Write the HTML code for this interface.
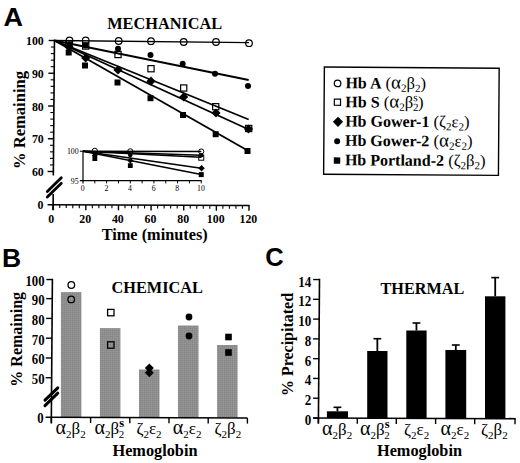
<!DOCTYPE html>
<html><head><meta charset="utf-8"><title>Figure</title>
<style>html,body{margin:0;padding:0;background:#fff}svg{display:block}</style></head>
<body>
<svg width="520" height="463" viewBox="0 0 520 463">
<defs><pattern id="ht" width="2" height="2" patternUnits="userSpaceOnUse"><rect width="2" height="2" fill="#8e8e8e"/><rect width="1" height="1" fill="#858585"/><rect x="1" y="1" width="1" height="1" fill="#979797"/></pattern></defs>
<rect width="520" height="463" fill="#fff"/>
<text transform="translate(3.4,25.9) scale(1.08,1)" font-size="25" font-weight="bold" font-family="Liberation Sans, sans-serif">A</text>
<text x="164.70" y="28.60" font-size="16.3" text-anchor="middle" font-weight="bold" font-family="Liberation Serif, serif" >MECHANICAL</text>
<line x1="54.46" y1="39.80" x2="53.34" y2="175.50" stroke="#000" stroke-width="1.6" />
<line x1="53.19" y1="194.00" x2="53.06" y2="210.30" stroke="#000" stroke-width="1.6" />
<line x1="47.60" y1="204.72" x2="249.68" y2="205.57" stroke="#000" stroke-width="1.6" />
<line x1="48.65" y1="40.50" x2="54.45" y2="40.50" stroke="#000" stroke-width="1.4" />
<text transform="translate(43.80,45.20) scale(0.9,1)" font-size="13.2" text-anchor="end" font-weight="bold" font-family="Liberation Serif, serif">100</text>
<line x1="48.38" y1="73.25" x2="54.18" y2="73.25" stroke="#000" stroke-width="1.4" />
<text transform="translate(43.80,77.95) scale(0.9,1)" font-size="13.2" text-anchor="end" font-weight="bold" font-family="Liberation Serif, serif">90</text>
<line x1="48.11" y1="106.00" x2="53.91" y2="106.00" stroke="#000" stroke-width="1.4" />
<text transform="translate(43.80,110.70) scale(0.9,1)" font-size="13.2" text-anchor="end" font-weight="bold" font-family="Liberation Serif, serif">80</text>
<line x1="47.84" y1="138.75" x2="53.64" y2="138.75" stroke="#000" stroke-width="1.4" />
<text transform="translate(43.80,143.45) scale(0.9,1)" font-size="13.2" text-anchor="end" font-weight="bold" font-family="Liberation Serif, serif">70</text>
<line x1="47.58" y1="171.50" x2="53.38" y2="171.50" stroke="#000" stroke-width="1.4" />
<text transform="translate(43.80,176.20) scale(0.9,1)" font-size="13.2" text-anchor="end" font-weight="bold" font-family="Liberation Serif, serif">60</text>
<line x1="49.93" y1="164.95" x2="53.43" y2="164.95" stroke="#000" stroke-width="1.1" />
<line x1="49.98" y1="158.40" x2="53.48" y2="158.40" stroke="#000" stroke-width="1.1" />
<line x1="50.04" y1="151.85" x2="53.54" y2="151.85" stroke="#000" stroke-width="1.1" />
<line x1="50.09" y1="145.30" x2="53.59" y2="145.30" stroke="#000" stroke-width="1.1" />
<line x1="50.20" y1="132.20" x2="53.70" y2="132.20" stroke="#000" stroke-width="1.1" />
<line x1="50.25" y1="125.65" x2="53.75" y2="125.65" stroke="#000" stroke-width="1.1" />
<line x1="50.31" y1="119.10" x2="53.81" y2="119.10" stroke="#000" stroke-width="1.1" />
<line x1="50.36" y1="112.55" x2="53.86" y2="112.55" stroke="#000" stroke-width="1.1" />
<line x1="50.47" y1="99.45" x2="53.97" y2="99.45" stroke="#000" stroke-width="1.1" />
<line x1="50.52" y1="92.90" x2="54.02" y2="92.90" stroke="#000" stroke-width="1.1" />
<line x1="50.57" y1="86.35" x2="54.07" y2="86.35" stroke="#000" stroke-width="1.1" />
<line x1="50.63" y1="79.80" x2="54.13" y2="79.80" stroke="#000" stroke-width="1.1" />
<line x1="50.74" y1="66.70" x2="54.24" y2="66.70" stroke="#000" stroke-width="1.1" />
<line x1="50.79" y1="60.15" x2="54.29" y2="60.15" stroke="#000" stroke-width="1.1" />
<line x1="50.84" y1="53.60" x2="54.34" y2="53.60" stroke="#000" stroke-width="1.1" />
<line x1="50.90" y1="47.05" x2="54.40" y2="47.05" stroke="#000" stroke-width="1.1" />
<text transform="translate(43.40,209.00) scale(0.9,1)" font-size="13.2" text-anchor="end" font-weight="bold" font-family="Liberation Serif, serif">0</text>
<line x1="53.20" y1="204.75" x2="53.20" y2="210.05" stroke="#000" stroke-width="1.4" />
<text transform="translate(51.30,222.55) scale(0.9,1)" font-size="13.2" text-anchor="middle" font-weight="bold" font-family="Liberation Serif, serif">0</text>
<line x1="85.83" y1="204.88" x2="85.83" y2="210.18" stroke="#000" stroke-width="1.4" />
<text transform="translate(85.23,222.68) scale(0.9,1)" font-size="13.2" text-anchor="middle" font-weight="bold" font-family="Liberation Serif, serif">20</text>
<line x1="118.46" y1="205.02" x2="118.46" y2="210.32" stroke="#000" stroke-width="1.4" />
<text transform="translate(117.86,222.82) scale(0.9,1)" font-size="13.2" text-anchor="middle" font-weight="bold" font-family="Liberation Serif, serif">40</text>
<line x1="151.09" y1="205.16" x2="151.09" y2="210.46" stroke="#000" stroke-width="1.4" />
<text transform="translate(150.49,222.96) scale(0.9,1)" font-size="13.2" text-anchor="middle" font-weight="bold" font-family="Liberation Serif, serif">60</text>
<line x1="183.72" y1="205.29" x2="183.72" y2="210.59" stroke="#000" stroke-width="1.4" />
<text transform="translate(183.12,223.09) scale(0.9,1)" font-size="13.2" text-anchor="middle" font-weight="bold" font-family="Liberation Serif, serif">80</text>
<line x1="216.35" y1="205.43" x2="216.35" y2="210.73" stroke="#000" stroke-width="1.4" />
<text transform="translate(215.75,223.23) scale(0.9,1)" font-size="13.2" text-anchor="middle" font-weight="bold" font-family="Liberation Serif, serif">100</text>
<line x1="248.98" y1="205.57" x2="248.98" y2="210.87" stroke="#000" stroke-width="1.4" />
<text transform="translate(248.38,223.37) scale(0.9,1)" font-size="13.2" text-anchor="middle" font-weight="bold" font-family="Liberation Serif, serif">120</text>
<line x1="59.73" y1="204.77" x2="59.73" y2="208.07" stroke="#000" stroke-width="1.1" />
<line x1="66.25" y1="204.80" x2="66.25" y2="208.10" stroke="#000" stroke-width="1.1" />
<line x1="72.78" y1="204.83" x2="72.78" y2="208.13" stroke="#000" stroke-width="1.1" />
<line x1="79.30" y1="204.86" x2="79.30" y2="208.16" stroke="#000" stroke-width="1.1" />
<line x1="92.36" y1="204.91" x2="92.36" y2="208.21" stroke="#000" stroke-width="1.1" />
<line x1="98.88" y1="204.94" x2="98.88" y2="208.24" stroke="#000" stroke-width="1.1" />
<line x1="105.41" y1="204.97" x2="105.41" y2="208.27" stroke="#000" stroke-width="1.1" />
<line x1="111.93" y1="204.99" x2="111.93" y2="208.29" stroke="#000" stroke-width="1.1" />
<line x1="124.99" y1="205.05" x2="124.99" y2="208.35" stroke="#000" stroke-width="1.1" />
<line x1="131.51" y1="205.08" x2="131.51" y2="208.38" stroke="#000" stroke-width="1.1" />
<line x1="138.04" y1="205.10" x2="138.04" y2="208.40" stroke="#000" stroke-width="1.1" />
<line x1="144.56" y1="205.13" x2="144.56" y2="208.43" stroke="#000" stroke-width="1.1" />
<line x1="157.62" y1="205.19" x2="157.62" y2="208.49" stroke="#000" stroke-width="1.1" />
<line x1="164.14" y1="205.21" x2="164.14" y2="208.51" stroke="#000" stroke-width="1.1" />
<line x1="170.67" y1="205.24" x2="170.67" y2="208.54" stroke="#000" stroke-width="1.1" />
<line x1="177.19" y1="205.27" x2="177.19" y2="208.57" stroke="#000" stroke-width="1.1" />
<line x1="190.25" y1="205.32" x2="190.25" y2="208.62" stroke="#000" stroke-width="1.1" />
<line x1="196.77" y1="205.35" x2="196.77" y2="208.65" stroke="#000" stroke-width="1.1" />
<line x1="203.30" y1="205.38" x2="203.30" y2="208.68" stroke="#000" stroke-width="1.1" />
<line x1="209.82" y1="205.40" x2="209.82" y2="208.70" stroke="#000" stroke-width="1.1" />
<line x1="222.88" y1="205.46" x2="222.88" y2="208.76" stroke="#000" stroke-width="1.1" />
<line x1="229.40" y1="205.49" x2="229.40" y2="208.79" stroke="#000" stroke-width="1.1" />
<line x1="235.93" y1="205.51" x2="235.93" y2="208.81" stroke="#000" stroke-width="1.1" />
<line x1="242.45" y1="205.54" x2="242.45" y2="208.84" stroke="#000" stroke-width="1.1" />
<line x1="47.30" y1="191.40" x2="61.30" y2="177.80" stroke="#000" stroke-width="2.8" stroke-linecap="round"/>
<line x1="47.30" y1="196.90" x2="61.30" y2="183.30" stroke="#000" stroke-width="2.8" stroke-linecap="round"/>
<text x="154.70" y="240.00" font-size="16.3" text-anchor="middle" font-weight="bold" font-family="Liberation Serif, serif" >Time (minutes)</text>
<text transform="translate(24.6,120) rotate(-90)" font-size="16.6" text-anchor="middle" font-weight="bold" font-family="Liberation Serif, serif">% Remaining</text>
<line x1="54.45" y1="40.50" x2="249.00" y2="42.60" stroke="#000" stroke-width="1.4" />
<line x1="54.45" y1="40.50" x2="248.70" y2="80.00" stroke="#000" stroke-width="1.8" />
<line x1="54.45" y1="40.50" x2="248.70" y2="119.50" stroke="#000" stroke-width="1.8" />
<line x1="54.45" y1="40.50" x2="248.70" y2="129.50" stroke="#000" stroke-width="1.8" />
<line x1="54.45" y1="40.50" x2="248.50" y2="151.00" stroke="#000" stroke-width="1.8" />
<rect x="65.70" y="49.50" width="6.0" height="6.0" fill="#000"/>
<rect x="82.00" y="62.50" width="6.0" height="6.0" fill="#000"/>
<rect x="114.50" y="79.50" width="6.0" height="6.0" fill="#000"/>
<rect x="147.50" y="95.20" width="6.0" height="6.0" fill="#000"/>
<rect x="180.00" y="112.00" width="6.0" height="6.0" fill="#000"/>
<rect x="212.70" y="131.20" width="6.0" height="6.0" fill="#000"/>
<rect x="244.50" y="148.00" width="6.0" height="6.0" fill="#000"/>
<rect x="65.90" y="40.90" width="6.2" height="6.2" fill="none" stroke="#000" stroke-width="1.2"/>
<rect x="82.60" y="42.90" width="6.2" height="6.2" fill="none" stroke="#000" stroke-width="1.2"/>
<rect x="114.90" y="51.40" width="6.2" height="6.2" fill="none" stroke="#000" stroke-width="1.2"/>
<rect x="147.90" y="65.60" width="6.2" height="6.2" fill="none" stroke="#000" stroke-width="1.2"/>
<rect x="180.60" y="84.90" width="6.2" height="6.2" fill="none" stroke="#000" stroke-width="1.2"/>
<rect x="212.60" y="103.60" width="6.2" height="6.2" fill="none" stroke="#000" stroke-width="1.2"/>
<rect x="245.60" y="125.40" width="6.2" height="6.2" fill="none" stroke="#000" stroke-width="1.2"/>
<polygon points="64.40,47.00 69.00,42.40 73.60,47.00 69.00,51.60" fill="#000"/>
<polygon points="81.10,58.00 85.70,53.40 90.30,58.00 85.70,62.60" fill="#000"/>
<polygon points="113.40,70.00 118.00,65.40 122.60,70.00 118.00,74.60" fill="#000"/>
<polygon points="146.40,81.20 151.00,76.60 155.60,81.20 151.00,85.80" fill="#000"/>
<polygon points="179.10,97.00 183.70,92.40 188.30,97.00 183.70,101.60" fill="#000"/>
<polygon points="211.40,113.00 216.00,108.40 220.60,113.00 216.00,117.60" fill="#000"/>
<polygon points="243.90,129.00 248.50,124.40 253.10,129.00 248.50,133.60" fill="#000"/>
<circle cx="69.50" cy="44.50" r="3.0" fill="#000"/>
<circle cx="85.50" cy="45.50" r="3.0" fill="#000"/>
<circle cx="118.00" cy="48.70" r="3.0" fill="#000"/>
<circle cx="150.50" cy="55.00" r="3.0" fill="#000"/>
<circle cx="182.70" cy="63.70" r="3.0" fill="#000"/>
<circle cx="215.00" cy="73.70" r="3.0" fill="#000"/>
<circle cx="248.00" cy="86.00" r="3.0" fill="#000"/>
<circle cx="69.50" cy="40.50" r="3.3" fill="none" stroke="#000" stroke-width="1.2"/>
<circle cx="85.70" cy="40.50" r="3.3" fill="none" stroke="#000" stroke-width="1.2"/>
<circle cx="118.70" cy="41.00" r="3.3" fill="none" stroke="#000" stroke-width="1.2"/>
<circle cx="151.00" cy="41.20" r="3.3" fill="none" stroke="#000" stroke-width="1.2"/>
<circle cx="183.70" cy="42.00" r="3.3" fill="none" stroke="#000" stroke-width="1.2"/>
<circle cx="216.00" cy="42.00" r="3.3" fill="none" stroke="#000" stroke-width="1.2"/>
<circle cx="249.00" cy="43.20" r="3.3" fill="none" stroke="#000" stroke-width="1.2"/>
<line x1="83.00" y1="150.70" x2="83.00" y2="183.60" stroke="#000" stroke-width="1.2" />
<line x1="79.80" y1="180.60" x2="201.75" y2="180.60" stroke="#000" stroke-width="1.2" />
<line x1="79.80" y1="151.20" x2="83.00" y2="151.20" stroke="#000" stroke-width="1.1" />
<line x1="94.83" y1="180.60" x2="94.83" y2="183.40" stroke="#000" stroke-width="1.0" />
<line x1="106.65" y1="180.60" x2="106.65" y2="183.40" stroke="#000" stroke-width="1.0" />
<line x1="118.47" y1="180.60" x2="118.47" y2="183.40" stroke="#000" stroke-width="1.0" />
<line x1="130.30" y1="180.60" x2="130.30" y2="183.40" stroke="#000" stroke-width="1.0" />
<line x1="142.12" y1="180.60" x2="142.12" y2="183.40" stroke="#000" stroke-width="1.0" />
<line x1="153.95" y1="180.60" x2="153.95" y2="183.40" stroke="#000" stroke-width="1.0" />
<line x1="165.77" y1="180.60" x2="165.77" y2="183.40" stroke="#000" stroke-width="1.0" />
<line x1="177.60" y1="180.60" x2="177.60" y2="183.40" stroke="#000" stroke-width="1.0" />
<line x1="189.43" y1="180.60" x2="189.43" y2="183.40" stroke="#000" stroke-width="1.0" />
<line x1="201.25" y1="180.60" x2="201.25" y2="183.40" stroke="#000" stroke-width="1.0" />
<text x="82.70" y="191.20" font-size="7.8" text-anchor="middle"  font-family="Liberation Serif, serif" >0</text>
<text x="106.35" y="191.20" font-size="7.8" text-anchor="middle"  font-family="Liberation Serif, serif" >2</text>
<text x="130.00" y="191.20" font-size="7.8" text-anchor="middle"  font-family="Liberation Serif, serif" >4</text>
<text x="153.65" y="191.20" font-size="7.8" text-anchor="middle"  font-family="Liberation Serif, serif" >6</text>
<text x="177.30" y="191.20" font-size="7.8" text-anchor="middle"  font-family="Liberation Serif, serif" >8</text>
<text x="200.95" y="191.20" font-size="7.8" text-anchor="middle"  font-family="Liberation Serif, serif" >10</text>
<text x="78.60" y="153.80" font-size="7.8" text-anchor="end"  font-family="Liberation Serif, serif" >100</text>
<text x="78.60" y="183.50" font-size="7.8" text-anchor="end"  font-family="Liberation Serif, serif" >95</text>
<line x1="83.00" y1="151.20" x2="201.25" y2="151.60" stroke="#000" stroke-width="1.5" />
<line x1="83.00" y1="151.20" x2="201.25" y2="155.20" stroke="#000" stroke-width="1.5" />
<line x1="83.00" y1="151.20" x2="201.25" y2="157.30" stroke="#000" stroke-width="1.5" />
<line x1="83.00" y1="151.20" x2="201.25" y2="168.20" stroke="#000" stroke-width="1.5" />
<line x1="83.00" y1="151.20" x2="201.25" y2="174.60" stroke="#000" stroke-width="1.5" />
<rect x="92.42" y="156.20" width="4.8" height="4.8" fill="#000"/>
<rect x="127.90" y="163.20" width="4.8" height="4.8" fill="#000"/>
<polygon points="91.83,155.50 94.83,152.50 97.83,155.50 94.83,158.50" fill="#000"/>
<polygon points="127.30,160.50 130.30,157.50 133.30,160.50 130.30,163.50" fill="#000"/>
<circle cx="94.83" cy="153.20" r="2.3" fill="#000"/>
<circle cx="130.30" cy="155.00" r="2.3" fill="#000"/>
<rect x="198.75" y="172.10" width="5.0" height="5.0" fill="#000"/>
<polygon points="198.35,168.20 201.55,165.00 204.75,168.20 201.55,171.40" fill="#000"/>
<circle cx="201.25" cy="155.20" r="2.2" fill="#000"/>
<rect x="198.75" y="155.20" width="5.0" height="5.0" fill="none" stroke="#000" stroke-width="1.0"/>
<circle cx="94.83" cy="150.80" r="2.6" fill="none" stroke="#000" stroke-width="1.0"/>
<circle cx="130.30" cy="151.30" r="2.6" fill="none" stroke="#000" stroke-width="1.0"/>
<circle cx="201.25" cy="151.50" r="2.6" fill="none" stroke="#000" stroke-width="1.0"/>
<g transform="rotate(0.4 411 121)">
<rect x="324" y="67.6" width="174.8" height="107.2" fill="#fff" stroke="#000" stroke-width="1.4"/>
<text x="345.2" y="88.7" font-size="16" font-family="Liberation Serif, serif"><tspan font-weight="bold">Hb A</tspan><tspan font-size="16.6"> (<tspan font-size="19">&#945;</tspan><tspan font-size="11" dy="3.2">2</tspan><tspan dy="-3.2" font-size="1">&#8203;</tspan>&#946;<tspan font-size="11" dy="3.2">2</tspan><tspan dy="-3.2" font-size="1">&#8203;</tspan>)</tspan></text>
<text x="345.2" y="107.7" font-size="16" font-family="Liberation Serif, serif"><tspan font-weight="bold">Hb S</tspan><tspan font-size="16.6"> (<tspan font-size="19">&#945;</tspan><tspan font-size="11" dy="3.2">2</tspan><tspan dy="-3.2" font-size="1">&#8203;</tspan>&#946;<tspan font-size="11.5" dy="-6.5">s</tspan><tspan font-size="11" dy="9.7" dx="-4.7">2</tspan><tspan dy="-3.2" dx="-0.5">)</tspan></tspan></text>
<text x="345.2" y="126.9" font-size="16" font-family="Liberation Serif, serif"><tspan font-weight="bold">Hb Gower-1</tspan><tspan font-size="16.6"> (&#950;<tspan font-size="11" dy="3.2">2</tspan><tspan dy="-3.2" font-size="1">&#8203;</tspan>&#949;<tspan font-size="11" dy="3.2">2</tspan><tspan dy="-3.2" font-size="1">&#8203;</tspan>)</tspan></text>
<text x="345.2" y="146.2" font-size="16" font-family="Liberation Serif, serif"><tspan font-weight="bold">Hb Gower-2</tspan><tspan font-size="16.6"> (<tspan font-size="19">&#945;</tspan><tspan font-size="11" dy="3.2">2</tspan><tspan dy="-3.2" font-size="1">&#8203;</tspan>&#949;<tspan font-size="11" dy="3.2">2</tspan><tspan dy="-3.2" font-size="1">&#8203;</tspan>)</tspan></text>
<text x="345.2" y="165.7" font-size="16" font-family="Liberation Serif, serif"><tspan font-weight="bold">Hb Portland-2</tspan><tspan font-size="16.6"> (&#950;<tspan font-size="11" dy="3.2">2</tspan><tspan dy="-3.2" font-size="1">&#8203;</tspan>&#946;<tspan font-size="11" dy="3.2">2</tspan><tspan dy="-3.2" font-size="1">&#8203;</tspan>)</tspan></text>
<circle cx="337.30" cy="83.90" r="3.3" fill="none" stroke="#000" stroke-width="1.2"/>
<rect x="334.20" y="99.60" width="6.2" height="6.2" fill="none" stroke="#000" stroke-width="1.2"/>
<polygon points="332.90,122.30 338.00,117.20 343.10,122.30 338.00,127.40" fill="#000"/>
<circle cx="337.30" cy="141.80" r="3.0" fill="#000"/>
<rect x="334.10" y="157.90" width="6.4" height="6.4" fill="#000"/>
</g>
<text transform="translate(2.0,266.9) scale(1.04,1)" font-size="25.5" font-weight="bold" font-family="Liberation Sans, sans-serif">B</text>
<text x="157.20" y="292.50" font-size="16.3" text-anchor="middle" font-weight="bold" font-family="Liberation Serif, serif" >CHEMICAL</text>
<rect x="60.875" y="292.1" width="20.5" height="125.39999999999995" fill="url(#ht)"/>
<rect x="99.925" y="328.1" width="20.5" height="89.39999999999995" fill="url(#ht)"/>
<rect x="138.975" y="369.5" width="20.5" height="47.99999999999998" fill="url(#ht)"/>
<rect x="178.02499999999998" y="325.5" width="20.5" height="91.99999999999997" fill="url(#ht)"/>
<rect x="217.075" y="345" width="20.5" height="72.49999999999997" fill="url(#ht)"/>
<line x1="52.40" y1="278.85" x2="51.30" y2="423.50" stroke="#000" stroke-width="1.6" />
<line x1="45.60" y1="417.20" x2="247.35" y2="418.01" stroke="#000" stroke-width="1.6" />
<line x1="46.40" y1="279.55" x2="52.40" y2="279.55" stroke="#000" stroke-width="1.4" />
<text transform="translate(44.60,285.95) scale(0.88,1)" font-size="14.5" text-anchor="end" font-weight="bold" font-family="Liberation Serif, serif">100</text>
<line x1="46.25" y1="298.63" x2="52.25" y2="298.63" stroke="#000" stroke-width="1.4" />
<text transform="translate(44.60,305.03) scale(0.88,1)" font-size="14.5" text-anchor="end" font-weight="bold" font-family="Liberation Serif, serif">90</text>
<line x1="46.10" y1="318.41" x2="52.10" y2="318.41" stroke="#000" stroke-width="1.4" />
<text transform="translate(44.60,324.81) scale(0.88,1)" font-size="14.5" text-anchor="end" font-weight="bold" font-family="Liberation Serif, serif">80</text>
<line x1="45.95" y1="338.19" x2="51.95" y2="338.19" stroke="#000" stroke-width="1.4" />
<text transform="translate(44.60,344.59) scale(0.88,1)" font-size="14.5" text-anchor="end" font-weight="bold" font-family="Liberation Serif, serif">70</text>
<line x1="45.80" y1="357.97" x2="51.80" y2="357.97" stroke="#000" stroke-width="1.4" />
<text transform="translate(44.60,364.37) scale(0.88,1)" font-size="14.5" text-anchor="end" font-weight="bold" font-family="Liberation Serif, serif">60</text>
<line x1="45.65" y1="377.75" x2="51.65" y2="377.75" stroke="#000" stroke-width="1.4" />
<text transform="translate(44.60,384.15) scale(0.88,1)" font-size="14.5" text-anchor="end" font-weight="bold" font-family="Liberation Serif, serif">50</text>
<text transform="translate(43.60,422.50) scale(0.88,1)" font-size="14.5" text-anchor="end" font-weight="bold" font-family="Liberation Serif, serif">0</text>
<line x1="51.40" y1="417.22" x2="51.40" y2="422.82" stroke="#000" stroke-width="1.4" />
<line x1="90.60" y1="417.38" x2="90.60" y2="422.98" stroke="#000" stroke-width="1.4" />
<line x1="129.80" y1="417.54" x2="129.80" y2="423.14" stroke="#000" stroke-width="1.4" />
<line x1="169.00" y1="417.69" x2="169.00" y2="423.29" stroke="#000" stroke-width="1.4" />
<line x1="208.20" y1="417.85" x2="208.20" y2="423.45" stroke="#000" stroke-width="1.4" />
<line x1="247.40" y1="418.01" x2="247.40" y2="423.61" stroke="#000" stroke-width="1.4" />
<line x1="45.00" y1="405.60" x2="57.80" y2="393.20" stroke="#000" stroke-width="3.0" stroke-linecap="round"/>
<line x1="45.00" y1="400.20" x2="57.80" y2="387.80" stroke="#000" stroke-width="3.0" stroke-linecap="round"/>
<text transform="translate(22.4,339.3) rotate(-90)" font-size="16" text-anchor="middle" font-weight="bold" font-family="Liberation Serif, serif">% Remaining</text>
<text x="155.00" y="455.60" font-size="16.3" text-anchor="middle" font-weight="bold" font-family="Liberation Serif, serif" >Hemoglobin</text>
<text x="55.5" y="434.4" font-size="17" text-anchor="start" font-family="Liberation Serif, serif"><tspan font-size="20">&#945;</tspan><tspan font-size="11" dy="3.5">2</tspan><tspan dy="-3.5" font-size="1">&#8203;</tspan>&#946;<tspan font-size="11" dy="3.5">2</tspan><tspan dy="-3.5" font-size="1">&#8203;</tspan></text>
<text x="94.5" y="434.4" font-size="17" text-anchor="start" font-family="Liberation Serif, serif"><tspan font-size="20">&#945;</tspan><tspan font-size="11" dy="3.5">2</tspan><tspan dy="-3.5" font-size="1">&#8203;</tspan>&#946;<tspan font-size="12.5" dy="-7.3" font-weight="bold">s</tspan><tspan font-size="11" dy="10.8" dx="-5.2">2</tspan></text>
<text x="136.4" y="434.4" font-size="17" text-anchor="start" font-family="Liberation Serif, serif">&#950;<tspan font-size="11" dy="3.5">2</tspan><tspan dy="-3.5" font-size="1">&#8203;</tspan>&#949;<tspan font-size="11" dy="3.5">2</tspan><tspan dy="-3.5" font-size="1">&#8203;</tspan></text>
<text x="172.8" y="434.4" font-size="17" text-anchor="start" font-family="Liberation Serif, serif"><tspan font-size="20">&#945;</tspan><tspan font-size="11" dy="3.5">2</tspan><tspan dy="-3.5" font-size="1">&#8203;</tspan>&#949;<tspan font-size="11" dy="3.5">2</tspan><tspan dy="-3.5" font-size="1">&#8203;</tspan></text>
<text x="214.5" y="434.4" font-size="17" text-anchor="start" font-family="Liberation Serif, serif">&#950;<tspan font-size="11" dy="3.5">2</tspan><tspan dy="-3.5" font-size="1">&#8203;</tspan>&#946;<tspan font-size="11" dy="3.5">2</tspan><tspan dy="-3.5" font-size="1">&#8203;</tspan></text>
<circle cx="71.30" cy="285.00" r="3.3" fill="none" stroke="#000" stroke-width="1.3"/>
<circle cx="71.20" cy="299.40" r="3.3" fill="none" stroke="#000" stroke-width="1.3"/>
<rect x="107.60" y="309.40" width="6.4" height="6.4" fill="none" stroke="#000" stroke-width="1.3"/>
<rect x="107.60" y="341.80" width="6.4" height="6.4" fill="none" stroke="#000" stroke-width="1.3"/>
<polygon points="144.80,368.00 149.30,363.50 153.80,368.00 149.30,372.50" fill="#000"/>
<polygon points="144.80,372.80 149.30,368.30 153.80,372.80 149.30,377.30" fill="#000"/>
<circle cx="189.00" cy="317.00" r="3.4" fill="#000"/>
<circle cx="189.00" cy="336.00" r="3.4" fill="#000"/>
<rect x="225.20" y="333.70" width="6.6" height="6.6" fill="#000"/>
<rect x="225.20" y="349.20" width="6.6" height="6.6" fill="#000"/>
<text x="265.30" y="266.30" font-size="25.5" text-anchor="start" font-weight="bold" font-family="Liberation Sans, sans-serif" >C</text>
<text x="422.40" y="293.60" font-size="16.2" text-anchor="middle" font-weight="bold" font-family="Liberation Serif, serif" >THERMAL</text>
<rect x="326.9" y="411.3" width="21.100000000000023" height="6.699999999999989" fill="#000"/>
<line x1="337.45" y1="411.30" x2="337.45" y2="407.30" stroke="#000" stroke-width="1.8" />
<line x1="333.55" y1="407.30" x2="341.35" y2="407.30" stroke="#000" stroke-width="1.6" />
<rect x="367.2" y="351" width="20.30000000000001" height="67.0" fill="#000"/>
<line x1="377.35" y1="351.00" x2="377.35" y2="338.70" stroke="#000" stroke-width="1.8" />
<line x1="373.45" y1="338.70" x2="381.25" y2="338.70" stroke="#000" stroke-width="1.6" />
<rect x="406.3" y="330.5" width="20.30000000000001" height="87.5" fill="#000"/>
<line x1="416.45" y1="330.50" x2="416.45" y2="323.00" stroke="#000" stroke-width="1.8" />
<line x1="412.55" y1="323.00" x2="420.35" y2="323.00" stroke="#000" stroke-width="1.6" />
<rect x="445.4" y="350" width="20.80000000000001" height="68.0" fill="#000"/>
<line x1="455.80" y1="350.00" x2="455.80" y2="345.00" stroke="#000" stroke-width="1.8" />
<line x1="451.90" y1="345.00" x2="459.70" y2="345.00" stroke="#000" stroke-width="1.6" />
<rect x="485" y="296.3" width="20.399999999999977" height="121.69999999999999" fill="#000"/>
<line x1="495.20" y1="296.30" x2="495.20" y2="277.60" stroke="#000" stroke-width="1.8" />
<line x1="491.30" y1="277.60" x2="499.10" y2="277.60" stroke="#000" stroke-width="1.6" />
<line x1="319.50" y1="278.84" x2="318.40" y2="423.60" stroke="#000" stroke-width="1.6" />
<line x1="313.10" y1="418.00" x2="515.70" y2="418.70" stroke="#000" stroke-width="1.6" />
<line x1="313.10" y1="418.00" x2="319.30" y2="418.00" stroke="#000" stroke-width="1.4" />
<text transform="translate(311.30,425.00) scale(0.9,1)" font-size="14.5" text-anchor="end" font-weight="bold" font-family="Liberation Serif, serif">0</text>
<line x1="313.10" y1="398.22" x2="319.30" y2="398.22" stroke="#000" stroke-width="1.4" />
<text transform="translate(311.30,405.22) scale(0.9,1)" font-size="14.5" text-anchor="end" font-weight="bold" font-family="Liberation Serif, serif">2</text>
<line x1="313.10" y1="378.44" x2="319.30" y2="378.44" stroke="#000" stroke-width="1.4" />
<text transform="translate(311.30,385.44) scale(0.9,1)" font-size="14.5" text-anchor="end" font-weight="bold" font-family="Liberation Serif, serif">4</text>
<line x1="313.10" y1="358.66" x2="319.30" y2="358.66" stroke="#000" stroke-width="1.4" />
<text transform="translate(311.30,365.66) scale(0.9,1)" font-size="14.5" text-anchor="end" font-weight="bold" font-family="Liberation Serif, serif">6</text>
<line x1="313.10" y1="338.88" x2="319.30" y2="338.88" stroke="#000" stroke-width="1.4" />
<text transform="translate(311.30,345.88) scale(0.9,1)" font-size="14.5" text-anchor="end" font-weight="bold" font-family="Liberation Serif, serif">8</text>
<line x1="313.10" y1="319.10" x2="319.30" y2="319.10" stroke="#000" stroke-width="1.4" />
<text transform="translate(311.30,326.10) scale(0.9,1)" font-size="14.5" text-anchor="end" font-weight="bold" font-family="Liberation Serif, serif">10</text>
<line x1="313.10" y1="299.32" x2="319.30" y2="299.32" stroke="#000" stroke-width="1.4" />
<text transform="translate(311.30,306.32) scale(0.9,1)" font-size="14.5" text-anchor="end" font-weight="bold" font-family="Liberation Serif, serif">12</text>
<line x1="313.10" y1="279.54" x2="319.30" y2="279.54" stroke="#000" stroke-width="1.4" />
<text transform="translate(311.30,286.54) scale(0.9,1)" font-size="14.5" text-anchor="end" font-weight="bold" font-family="Liberation Serif, serif">14</text>
<line x1="318.40" y1="418.00" x2="318.40" y2="423.60" stroke="#000" stroke-width="1.4" />
<line x1="357.30" y1="418.14" x2="357.30" y2="423.74" stroke="#000" stroke-width="1.4" />
<line x1="396.30" y1="418.28" x2="396.30" y2="423.88" stroke="#000" stroke-width="1.4" />
<line x1="435.60" y1="418.42" x2="435.60" y2="424.02" stroke="#000" stroke-width="1.4" />
<line x1="474.70" y1="418.56" x2="474.70" y2="424.16" stroke="#000" stroke-width="1.4" />
<line x1="515.00" y1="418.70" x2="515.00" y2="424.30" stroke="#000" stroke-width="1.4" />
<text transform="translate(293.4,344.5) rotate(-90)" font-size="16" text-anchor="middle" font-weight="bold" font-family="Liberation Serif, serif">% Precipitated</text>
<text x="419.50" y="455.80" font-size="16.3" text-anchor="middle" font-weight="bold" font-family="Liberation Serif, serif" >Hemoglobin</text>
<text x="322" y="435.0" font-size="17" text-anchor="start" font-family="Liberation Serif, serif"><tspan font-size="20">&#945;</tspan><tspan font-size="11" dy="3.5">2</tspan><tspan dy="-3.5" font-size="1">&#8203;</tspan>&#946;<tspan font-size="11" dy="3.5">2</tspan><tspan dy="-3.5" font-size="1">&#8203;</tspan></text>
<text x="360" y="435.0" font-size="17" text-anchor="start" font-family="Liberation Serif, serif"><tspan font-size="20">&#945;</tspan><tspan font-size="11" dy="3.5">2</tspan><tspan dy="-3.5" font-size="1">&#8203;</tspan>&#946;<tspan font-size="12.5" dy="-7.3" font-weight="bold">s</tspan><tspan font-size="11" dy="10.8" dx="-5.2">2</tspan></text>
<text x="404.0" y="435.0" font-size="17" text-anchor="start" font-family="Liberation Serif, serif">&#950;<tspan font-size="11" dy="3.5">2</tspan><tspan dy="-3.5" font-size="1">&#8203;</tspan>&#949;<tspan font-size="11" dy="3.5">2</tspan><tspan dy="-3.5" font-size="1">&#8203;</tspan></text>
<text x="440.6" y="435.0" font-size="17" text-anchor="start" font-family="Liberation Serif, serif"><tspan font-size="20">&#945;</tspan><tspan font-size="11" dy="3.5">2</tspan><tspan dy="-3.5" font-size="1">&#8203;</tspan>&#949;<tspan font-size="11" dy="3.5">2</tspan><tspan dy="-3.5" font-size="1">&#8203;</tspan></text>
<text x="481.0" y="435.0" font-size="17" text-anchor="start" font-family="Liberation Serif, serif">&#950;<tspan font-size="11" dy="3.5">2</tspan><tspan dy="-3.5" font-size="1">&#8203;</tspan>&#946;<tspan font-size="11" dy="3.5">2</tspan><tspan dy="-3.5" font-size="1">&#8203;</tspan></text>
</svg>
</body></html>
